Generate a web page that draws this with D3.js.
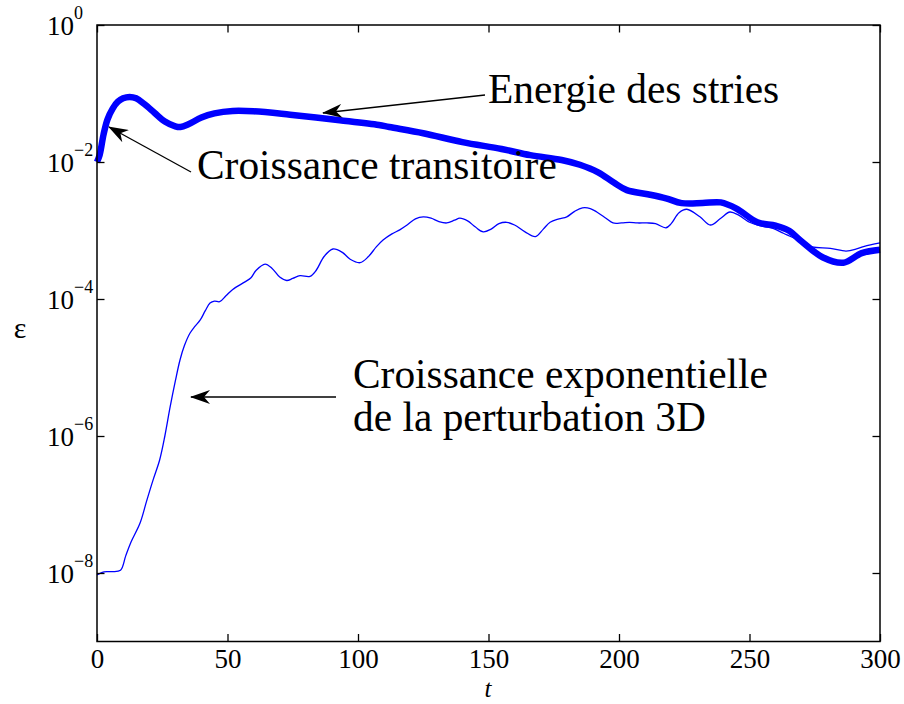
<!DOCTYPE html>
<html>
<head>
<meta charset="utf-8">
<script src="https://cdn.jsdelivr.net/npm/d3@7"></script>
</head>
<body style="margin:0">
<svg id="chart" width="904" height="704" style="display:block;font-family:'Liberation Serif'"></svg>
<script>
// Streak energy (thick) : time t and log10 of the energy
const streakT   = [0, 1, 2.5, 4, 6, 8, 10, 12.5, 15, 18, 22, 26, 30, 32, 35, 40, 45, 52, 60, 74, 93, 108, 112, 125, 140, 155, 166, 178, 185, 192, 198, 203, 211, 218, 224, 232, 239, 245, 253, 260, 265, 270, 278, 286, 293, 300];
const streakLog = [-2.0, -1.9, -1.6, -1.38, -1.22, -1.12, -1.07, -1.05, -1.07, -1.15, -1.28, -1.41, -1.48, -1.49, -1.45, -1.35, -1.29, -1.255, -1.26, -1.31, -1.39, -1.46, -1.49, -1.58, -1.71, -1.81, -1.90, -1.97, -2.04, -2.15, -2.30, -2.41, -2.47, -2.53, -2.60, -2.60, -2.59, -2.68, -2.88, -2.93, -3.0, -3.16, -3.39, -3.47, -3.33, -3.28];

// 3D perturbation (thin) : time t and log10 of the energy
const pertT   = [0, 2, 4, 6, 9, 11, 13, 16.5, 19, 21.5, 24, 26, 28, 30, 31.8, 33.5, 35.6, 37.5, 39.5, 41.5, 43.3, 45, 47, 49.5, 52, 56.7, 59, 61, 64.4, 67, 70, 72.7, 75, 77.8, 81.6, 84, 87, 90.4, 94, 97, 100.8, 104, 107, 109.6, 113, 116, 118.8, 122, 125, 128, 131, 134, 137, 139, 142, 145, 148, 151, 154, 157, 160, 164, 168, 171, 173.6, 177, 180, 183, 186, 189, 191.5, 195, 197.7, 201, 204, 207, 210.7, 214, 218, 220, 223, 226, 231, 235, 239, 242.5, 246, 250, 254, 259, 263, 267, 270, 274, 281, 287, 291, 294, 300];
const pertLog = [-8.03, -7.99, -7.98, -7.98, -7.96, -7.75, -7.55, -7.27, -6.95, -6.64, -6.35, -6.0, -5.58, -5.2, -4.89, -4.68, -4.50, -4.40, -4.31, -4.17, -4.06, -4.03, -4.04, -3.95, -3.86, -3.75, -3.69, -3.58, -3.49, -3.55, -3.68, -3.73, -3.70, -3.66, -3.67, -3.58, -3.38, -3.27, -3.32, -3.42, -3.47, -3.38, -3.24, -3.14, -3.05, -2.99, -2.92, -2.83, -2.80, -2.82, -2.87, -2.89, -2.85, -2.82, -2.86, -2.95, -3.02, -2.98, -2.90, -2.88, -2.92, -3.02, -3.09, -2.98, -2.88, -2.83, -2.80, -2.72, -2.67, -2.68, -2.73, -2.82, -2.89, -2.89, -2.88, -2.89, -2.89, -2.90, -2.96, -2.90, -2.74, -2.69, -2.80, -2.92, -2.82, -2.73, -2.78, -2.88, -2.93, -2.97, -3.04, -3.11, -3.17, -3.24, -3.26, -3.30, -3.27, -3.23, -3.18];

const xTicks = [0, 50, 100, 150, 200, 250, 300];
const yTickExp = [0, -2, -4, -6, -8];

const svg = d3.select("#chart");
const L = 97, R = 880, T = 25, B = 641.5;

const x = d3.scaleLinear().domain([0, 300]).range([L, R]);
const y = d3.scaleLog().domain([1e-9, 1]).range([B, T]);

const streak = streakT.map((t, i) => [t, Math.pow(10, streakLog[i])]);
const pert = pertT.map((t, i) => [t, Math.pow(10, pertLog[i])]);

const line = d3.line().x(d => x(d[0])).y(d => y(d[1])).curve(d3.curveCatmullRom.alpha(0.5));

const plot = svg.append("g");
plot.append("path").attr("d", line(pert))
  .attr("fill", "none").attr("stroke", "#0000ff").attr("stroke-width", 1.3);
plot.append("path").attr("d", line(streak))
  .attr("fill", "none").attr("stroke", "#0000ff").attr("stroke-width", 6.5)
  .attr("stroke-linejoin", "round").attr("stroke-linecap", "butt");

// Axes: ticks inside, mirrored on the opposite sides
const tickLen = 7.5;
const axB = svg.append("g").attr("transform", `translate(0,${B})`)
  .call(d3.axisBottom(x).tickValues(xTicks).tickSizeInner(-tickLen).tickSizeOuter(0).tickPadding(7.5).tickFormat(d3.format("d")));
const axT = svg.append("g").attr("transform", `translate(0,${T})`)
  .call(d3.axisTop(x).tickValues(xTicks).tickSizeInner(-tickLen).tickSizeOuter(0).tickFormat(""));
const yVals = yTickExp.map(e => Math.pow(10, e));
const axL = svg.append("g").attr("transform", `translate(${L},0)`)
  .call(d3.axisLeft(y).tickValues(yVals).tickSizeInner(-tickLen).tickSizeOuter(0).tickFormat(""));
const axR = svg.append("g").attr("transform", `translate(${R},0)`)
  .call(d3.axisRight(y).tickValues(yVals).tickSizeInner(-tickLen).tickSizeOuter(0).tickFormat(""));

[axB, axT, axL, axR].forEach(a => {
  a.attr("font-family", "Liberation Serif").attr("font-size", 27);
  a.select(".domain").remove();
  a.selectAll(".tick line").attr("stroke", "#000").attr("stroke-width", 1.3);
});
axB.selectAll(".tick text").attr("fill", "#000");

svg.append("rect").attr("x", L).attr("y", T).attr("width", R - L).attr("height", B - T)
  .attr("fill", "none").attr("stroke", "#000").attr("stroke-width", 1.5);

// text helper: serif face set as both attribute and inline style
function label(sel, px) {
  return sel.attr("font-family", "Liberation Serif").style("font-family", "'Liberation Serif'").style("font-size", px + "px");
}

// y tick labels as 10 with superscript exponent
yTickExp.forEach(e => {
  const yy = y(Math.pow(10, e));
  const t = label(svg.append("text").attr("x", 47).attr("y", yy + 10), 27);
  t.append("tspan").text("10");
  t.append("tspan").attr("dy", -16).style("font-size", "18px").text(e === 0 ? "0" : "\u2212" + Math.abs(e));
});

// axis labels
label(svg.append("text").attr("x", 488).attr("y", 697).attr("text-anchor", "middle"), 25)
  .style("font-style", "italic").text("t");
label(svg.append("text").attr("x", 20).attr("y", 338).attr("text-anchor", "middle"), 30).text("\u03b5");

// annotations with arrows
const defs = svg.append("defs");
defs.append("marker").attr("id", "head").attr("viewBox", "0 0 20 14")
  .attr("refX", 19).attr("refY", 7).attr("markerWidth", 20).attr("markerHeight", 14)
  .attr("markerUnits", "userSpaceOnUse").attr("orient", "auto")
  .append("path").attr("d", "M20,7 L0,0 L6,7 L0,14 Z").attr("fill", "#000");

const arrows = [
  { from: [485, 95], to: [323, 113] },
  { from: [191, 172], to: [109, 127] },
  { from: [336, 397], to: [191, 397] }
];
arrows.forEach(a => {
  svg.append("line").attr("x1", a.from[0]).attr("y1", a.from[1])
    .attr("x2", a.to[0]).attr("y2", a.to[1])
    .attr("stroke", "#000").attr("stroke-width", 1.3)
    .attr("marker-end", "url(#head)");
});

const notes = [
  { x: 488, y: 103, text: "Energie des stries" },
  { x: 197, y: 179, text: "Croissance transitoire" },
  { x: 353, y: 388, text: "Croissance exponentielle" },
  { x: 353, y: 431, text: "de la perturbation 3D" }
];
notes.forEach(n => {
  label(svg.append("text").attr("x", n.x).attr("y", n.y), 41.4).text(n.text);
});
</script>
</body>
</html>
